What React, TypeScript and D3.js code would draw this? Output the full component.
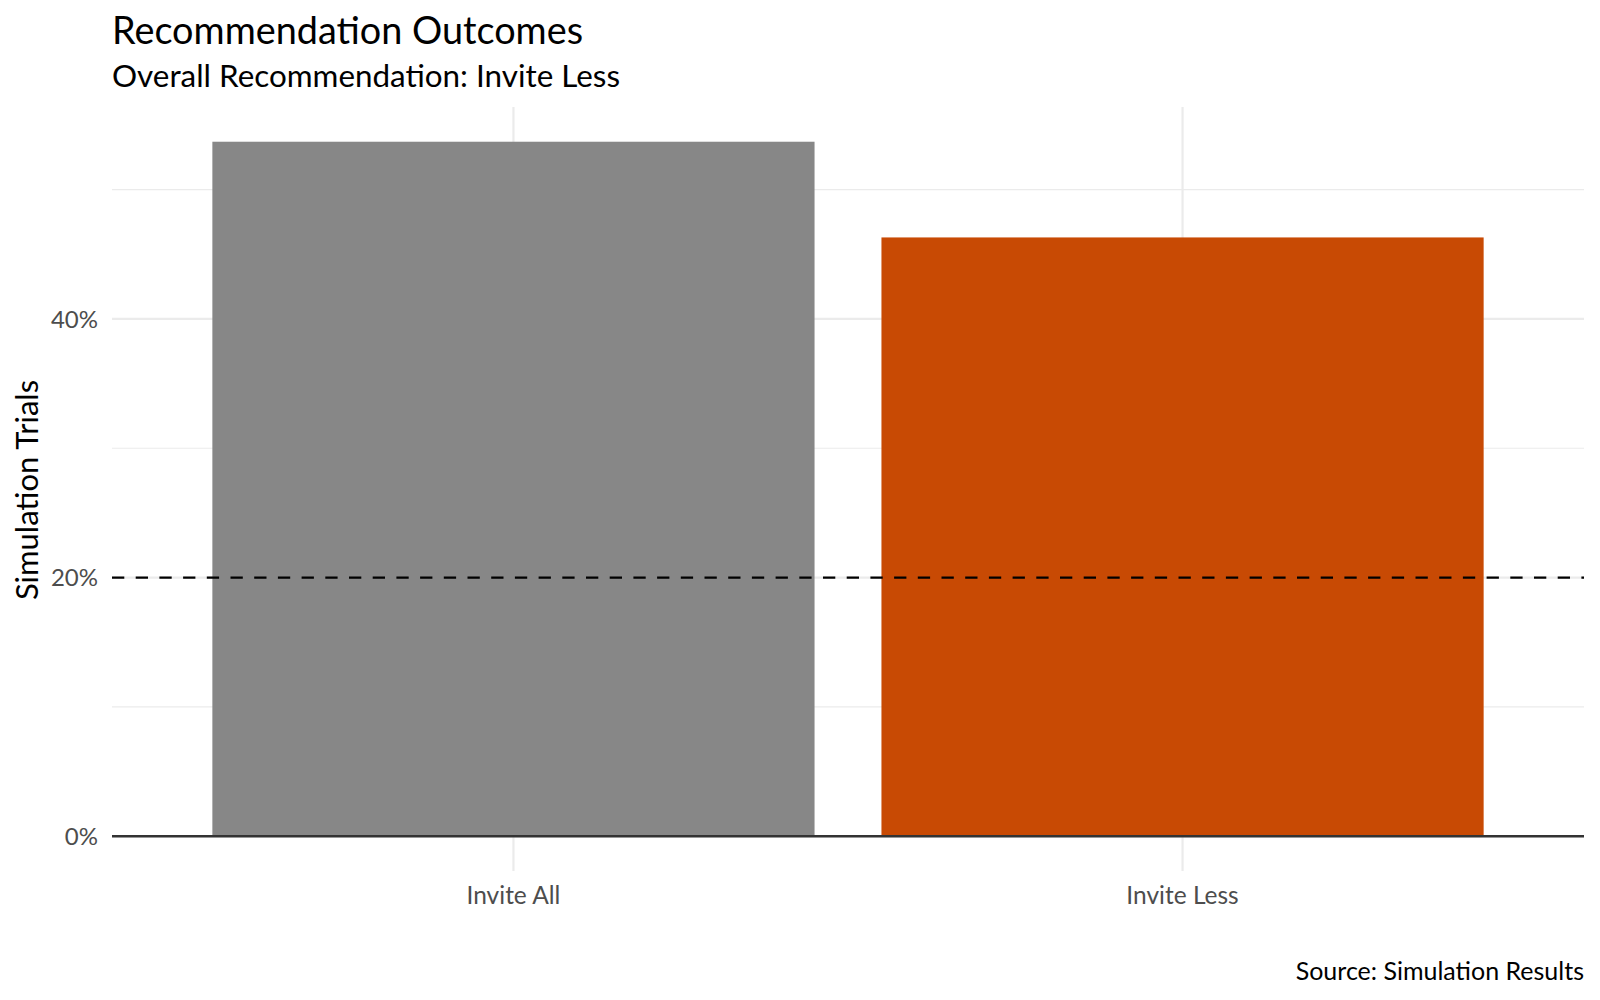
import * as d3 from 'd3'

const categories = ['Invite All', 'Invite Less']
const shares = [0.537, 0.463]
const barColors = ['#878787', '#C84A04']
const yTicks = [0, 0.2, 0.4]
const yMinor = [0.1, 0.3, 0.5]
const threshold = 0.2

const W = 1600
const H = 1000
const M = { top: 107, right: 16, bottom: 129, left: 112 }
const FONT = 'Lato, "Noto Sans", sans-serif'

export default function App() {
  const innerW = W - M.left - M.right
  const innerH = H - M.top - M.bottom
  const yMax = d3.max(shares) ?? 1

  // ggplot-like expansion: 0.6 units on a discrete axis, 5% on continuous
  const x = d3.scaleLinear().domain([0.4, categories.length + 0.6]).range([0, innerW])
  const y = d3
    .scaleLinear()
    .domain([-yMax * 0.05, yMax * 1.05])
    .range([innerH, 0])
  const bw = x(0.9) - x(0)
  const pct = d3.format('.0%')

  return (
    <svg width={W} height={H} style={{ position: 'absolute', left: 0, top: 0, background: '#fff' }} fontFamily={FONT}>
      <text x={M.left} y={44} fontSize={37.8} fill="#000">
        Recommendation Outcomes
      </text>
      <text x={M.left} y={87} fontSize={31.4} fill="#000">
        Overall Recommendation: Invite Less
      </text>
      <g transform={`translate(${M.left},${M.top})`}>
        {yMinor.map((t) => (
          <line key={'mn' + t} x1={0} x2={innerW} y1={y(t)} y2={y(t)} stroke="#ebebeb" strokeWidth={1.2} />
        ))}
        {yTicks.map((t) => (
          <line key={'mj' + t} x1={0} x2={innerW} y1={y(t)} y2={y(t)} stroke="#ebebeb" strokeWidth={2.2} />
        ))}
        {categories.map((c, i) => (
          <line key={'vx' + c} x1={x(i + 1)} x2={x(i + 1)} y1={0} y2={innerH} stroke="#ebebeb" strokeWidth={2.2} />
        ))}
        {categories.map((c, i) => (
          <rect
            key={c}
            x={x(i + 1) - bw / 2}
            y={y(shares[i])}
            width={bw}
            height={y(0) - y(shares[i])}
            fill={barColors[i]}
          />
        ))}
        <line x1={0} x2={innerW} y1={y(0)} y2={y(0)} stroke="#333333" strokeWidth={2.6} />
        <line
          x1={0}
          x2={innerW}
          y1={y(threshold)}
          y2={y(threshold)}
          stroke="#000"
          strokeWidth={2.2}
          strokeDasharray="12.3 11.4"
        />
        {yTicks.map((t) => (
          <text key={'yl' + t} x={-14} y={y(t)} dy="0.36em" textAnchor="end" fontSize={24} fill="#4d4d4d">
            {pct(t)}
          </text>
        ))}
        {categories.map((c, i) => (
          <text key={'xl' + c} x={x(i + 1)} y={innerH + 33} textAnchor="middle" fontSize={24.5} fill="#4d4d4d">
            {c}
          </text>
        ))}
        <text
          transform={`translate(${38 - M.left},${490 - M.top}) rotate(-90)`}
          textAnchor="middle"
          fontSize={31}
          fill="#000"
        >
          Simulation Trials
        </text>
      </g>
      <text x={W - M.right} y={980} textAnchor="end" fontSize={25} fill="#000">
        Source: Simulation Results
      </text>
    </svg>
  )
}
